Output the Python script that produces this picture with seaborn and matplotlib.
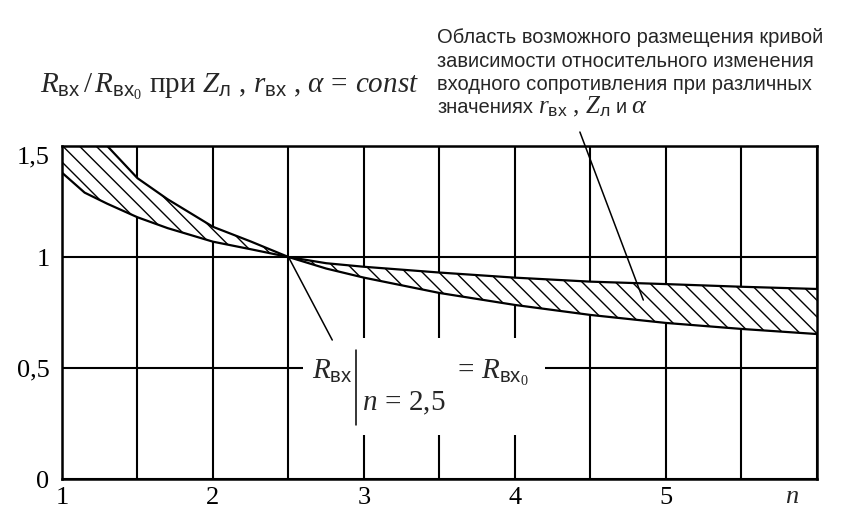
import matplotlib
matplotlib.use("Agg")
import matplotlib.pyplot as plt
from matplotlib.ticker import MultipleLocator
from matplotlib.patches import Rectangle
import numpy as np
import seaborn as sns

# values
n = [1.0, 1.15, 1.3, 1.5, 1.7, 2.0, 2.25, 2.5, 2.75, 3.0, 3.5, 4.0, 4.5, 5.0, 5.5, 6.0]
# steep curve (upper left of n = 2.5, lower right of it)
curve_a = [1.76, 1.62, 1.50, 1.355, 1.26, 1.136, 1.07, 1.0, 0.948, 0.907, 0.838,
           0.784, 0.739, 0.703, 0.676, 0.653]
# flat curve
curve_b = [1.38, 1.29, 1.24, 1.179, 1.13, 1.069, 1.035, 1.0, 0.972, 0.956, 0.93,
           0.907, 0.889, 0.878, 0.866, 0.856]

x_ticks = [1, 2, 3, 4, 5]
x_labels = ["1", "2", "3", "4", "5"]
y_ticks = [0, 0.5, 1, 1.5]
y_labels = ["0", "0,5", "1", "1,5"]

point_cross = (2.5, 1.0)
label_anchor = (2.79, 0.626)
region_point = (4.85, 0.806)
region_text_anchor = (4.43, 1.563)

note_lines = ["Область возможного размещения кривой",
              "зависимости относительного изменения",
              "входного сопротивления при различных"]
note_baselines = [1.309, 1.237, 1.168]
# last line: (text, font size, sans?)
note_last = [("значениях", 14.5, True),
             (r"$r_{\mathsf{вх}}$ , $Z_{\mathsf{л}}$", 18, False),
             ("и", 14.5, True),
             (r"$\alpha$", 19, False)]

sns.set_style("white")
plt.rcParams["font.family"] = ["Liberation Serif", "DejaVu Serif"]
plt.rcParams["mathtext.fontset"] = "custom"
plt.rcParams["mathtext.rm"] = "Liberation Serif"
plt.rcParams["mathtext.it"] = "Liberation Serif:italic"
plt.rcParams["mathtext.sf"] = "Liberation Sans"
plt.rcParams["hatch.linewidth"] = 1.0

sans = ["Liberation Sans Narrow", "Liberation Sans"]

fig = plt.figure(figsize=(8.68, 5.25), dpi=100)
ax = fig.add_axes([0.0714, 0.0876, 0.8698, 0.6343])

sns.lineplot(x=n, y=curve_a, ax=ax, color="black", lw=1.6)
sns.lineplot(x=n, y=curve_b, ax=ax, color="black", lw=1.6)
ax.fill_between(n, curve_a, curve_b, facecolor="white", edgecolor="black",
                hatch="\\\\", lw=0)

ax.set_xlim(1, 6)
ax.set_ylim(0, 1.5)
ax.set_xticks(x_ticks)
ax.set_xticklabels(x_labels)
ax.xaxis.set_minor_locator(MultipleLocator(0.5))
ax.set_yticks(y_ticks)
ax.set_yticklabels(y_labels)
ax.tick_params(axis="both", which="both", length=0, labelsize=19, colors="black")
ax.tick_params(axis="y", pad=9)
ax.tick_params(axis="x", pad=6)
ax.get_yticklabels()[-1].set_va("top")

ax.grid(which="both", axis="x", color="black", lw=1.5)
ax.grid(which="major", axis="y", color="black", lw=1.5)
ax.set_axisbelow(True)
for s in ax.spines.values():
    s.set_color("black")
    s.set_linewidth(1.8)

ax.set_xlabel("$n$", fontsize=19)
ax.xaxis.set_label_coords(0.967, -0.022)
ax.xaxis.label.set_va("top")

# axis title in the top left corner
ax.text(-0.029, 1.159,
        r"$R_{\mathsf{вх}}\,/\,R_{\mathsf{вх}_0}$ при $Z_{\mathsf{л}}$ , $r_{\mathsf{вх}}$ , $\alpha\,=\,const$",
        transform=ax.transAxes, fontsize=21, va="baseline", ha="left")

# note about the hatched region
for line, yb in zip(note_lines, note_baselines):
    ax.text(0.497, yb, line, transform=ax.transAxes, fontsize=14.5,
            va="baseline", ha="left", family=sans)

renderer = fig.canvas.get_renderer()
x_pos = 0.497
for txt, size, is_sans in note_last:
    kw = dict(family=sans) if is_sans else {}
    t = ax.text(x_pos, 1.099, txt, transform=ax.transAxes, fontsize=size,
                va="baseline", ha="left", **kw)
    bb = t.get_window_extent(renderer)
    x_pos = ax.transAxes.inverted().transform((bb.x1 + 5, bb.y0))[0]

ax.annotate("", xy=region_point, xytext=region_text_anchor,
            arrowprops=dict(arrowstyle="-", lw=1.1, color="black",
                            shrinkA=0, shrinkB=0),
            annotation_clip=False)

# white field under the formula R_вх|n=2,5 = R_вх0
ax.add_patch(Rectangle((2.596, 0.198), 1.603, 0.437, facecolor="white",
                       edgecolor="none", zorder=1))
ax.annotate("", xy=point_cross, xytext=label_anchor,
            arrowprops=dict(arrowstyle="-", lw=1.1, color="black",
                            shrinkA=0, shrinkB=0), zorder=3)
ax.text(2.656, 0.450, r"$R_{\mathsf{вх}}$", fontsize=21, ha="left",
        va="baseline", zorder=4)
ax.plot([2.947, 2.947], [0.581, 0.243], color="black", lw=1.1, zorder=4)
ax.text(2.99, 0.311, r"$n\, =\, 2{,}5$", fontsize=21, ha="left",
        va="baseline", zorder=4)
ax.text(3.59, 0.450, r"$=\, R_{\mathsf{вх}_0}$", fontsize=21, ha="left",
        va="baseline", zorder=4)

fig.savefig("out.png", dpi=100)
